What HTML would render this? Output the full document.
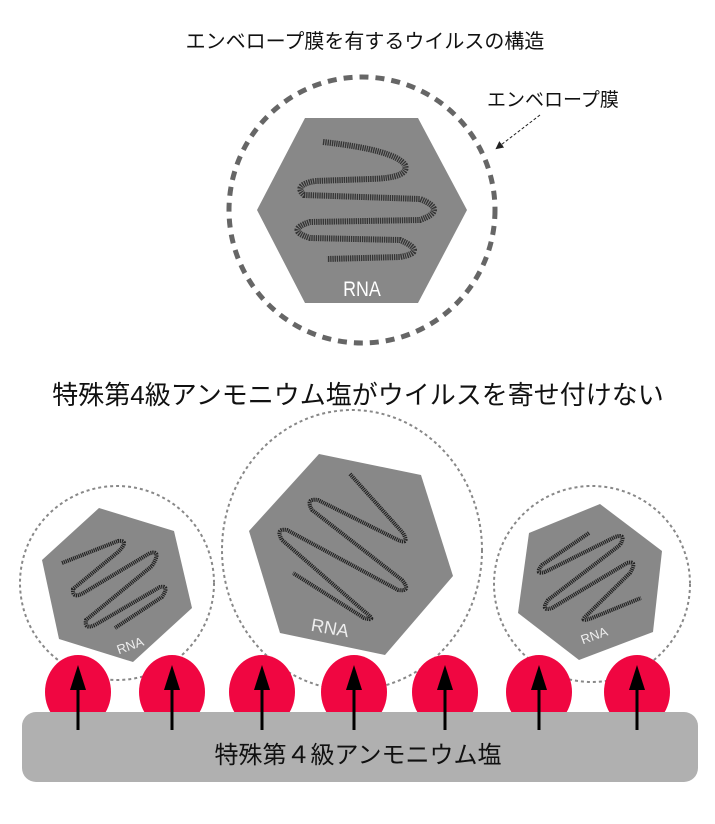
<!DOCTYPE html>
<html><head><meta charset="utf-8"><style>
html,body{margin:0;padding:0;background:#fff;}
svg{display:block;}
text{font-family:"Liberation Sans","Noto Sans CJK JP",sans-serif;}
</style></head><body>
<svg width="715" height="824" viewBox="0 0 715 824" xmlns="http://www.w3.org/2000/svg">
<defs>
<marker id="ah" markerWidth="8" markerHeight="8" refX="6" refY="4" orient="auto"><path d="M0,0 L8,4 L0,8 z" fill="#222"/></marker>
</defs>
<text x="365" y="48" font-size="20" text-anchor="middle" fill="#111">エンベロープ膜を有するウイルスの構造</text>
<circle cx="362" cy="210" r="133" fill="none" stroke="#666" stroke-width="5" stroke-dasharray="9 7"/>
<polygon points="257,210 305,118 418,118 467,210 418,303 305,303" fill="#888"/>
<path d="M323,142 Q395,150 405,165 Q410,178 370,179 L315,181 Q293,185 304,195 L420,199 Q448,210 420,220 L310,222 Q285,230 310,238 L400,240 Q428,252 400,257 L327,259" fill="none" stroke="#333" stroke-width="6" stroke-dasharray="1.3 0.9"/>
<text x="362" y="296" font-size="21" text-anchor="middle" fill="#fff" transform="translate(362 0) scale(0.85 1) translate(-362 0)">RNA</text>
<text x="487" y="106" font-size="19" fill="#111">エンベロープ膜</text>
<line x1="540" y1="115" x2="497" y2="148" stroke="#222" stroke-width="1" stroke-dasharray="3 2" marker-end="url(#ah)"/>

<text x="358" y="404" font-size="26" text-anchor="middle" fill="#111">特殊第4級アンモニウム塩がウイルスを寄せ付けない</text>

<circle cx="117" cy="583" r="97" fill="none" stroke="#888" stroke-width="2" stroke-dasharray="3 3"/>
<ellipse cx="352" cy="550" rx="130" ry="140" fill="none" stroke="#888" stroke-width="2" stroke-dasharray="3 3"/>
<circle cx="592" cy="584" r="98" fill="none" stroke="#888" stroke-width="2" stroke-dasharray="3 3"/>

<polygon points="99,508 174,531 192,608 133,662 59,639 42,560" fill="#888"/>
<path d="M62,563 L118,541 Q130,540 118,552 L73,589 Q72,600 85,592 L150,553 Q162,550 152,566 L86,620 Q84,630 95,625 L160,587 Q170,585 162,597 L115,628" fill="none" stroke="#222" stroke-width="4" stroke-dasharray="1.2 0.8"/>
<text x="130" y="650" font-size="13" fill="#eee" text-anchor="middle" transform="rotate(-20 130 645)">RNA</text>

<polygon points="319,454 421,475 453,576 385,655 280,633 249,531" fill="#888"/>
<path d="M350,474 L403,533 Q410,545 398,540 L318,500 Q305,498 312,510 L402,580 Q412,592 398,590 L287,530 Q275,528 282,540 L365,612 Q378,622 364,618 L293,573" fill="none" stroke="#222" stroke-width="4" stroke-dasharray="1.2 0.8"/>
<text x="330" y="634" font-size="18" fill="#eee" text-anchor="middle" transform="rotate(10 330 628)">RNA</text>

<polygon points="600,504 662,551 653,632 579,660 518,613 529,533" fill="#888"/>
<path d="M589,533 L542,565 Q534,575 545,572 L615,537 Q627,533 620,545 L548,600 Q540,612 552,608 L627,563 Q638,560 630,573 L587,615 Q578,623 592,618 L641,598" fill="none" stroke="#222" stroke-width="4" stroke-dasharray="1.2 0.8"/>
<text x="594" y="640" font-size="13" fill="#eee" text-anchor="middle" transform="rotate(-20 594 635)">RNA</text>

<g fill="#f00641">
<ellipse cx="78" cy="692" rx="33" ry="37"/>
<ellipse cx="172" cy="692" rx="33" ry="37"/>
<ellipse cx="262" cy="692" rx="33" ry="37"/>
<ellipse cx="354" cy="692" rx="33" ry="37"/>
<ellipse cx="445" cy="692" rx="33" ry="37"/>
<ellipse cx="539" cy="692" rx="33" ry="37"/>
<ellipse cx="637" cy="692" rx="33" ry="37"/>
</g>
<rect x="22" y="712" width="676" height="70" rx="14" fill="#b0b0b0"/>
<g stroke="#000" stroke-width="3" fill="#000">
<line x1="78" y1="730" x2="78" y2="685"/><polygon points="70,690 78,665 86,690" stroke="none"/>
<line x1="172" y1="730" x2="172" y2="685"/><polygon points="164,690 172,665 180,690" stroke="none"/>
<line x1="262" y1="730" x2="262" y2="685"/><polygon points="254,690 262,665 270,690" stroke="none"/>
<line x1="354" y1="730" x2="354" y2="685"/><polygon points="346,690 354,665 362,690" stroke="none"/>
<line x1="445" y1="730" x2="445" y2="685"/><polygon points="437,690 445,665 453,690" stroke="none"/>
<line x1="539" y1="730" x2="539" y2="685"/><polygon points="531,690 539,665 547,690" stroke="none"/>
<line x1="637" y1="730" x2="637" y2="685"/><polygon points="629,690 637,665 645,690" stroke="none"/>
</g>
<text x="358" y="763" font-size="24" text-anchor="middle" fill="#111">特殊第４級アンモニウム塩</text>
</svg>
</body></html>
